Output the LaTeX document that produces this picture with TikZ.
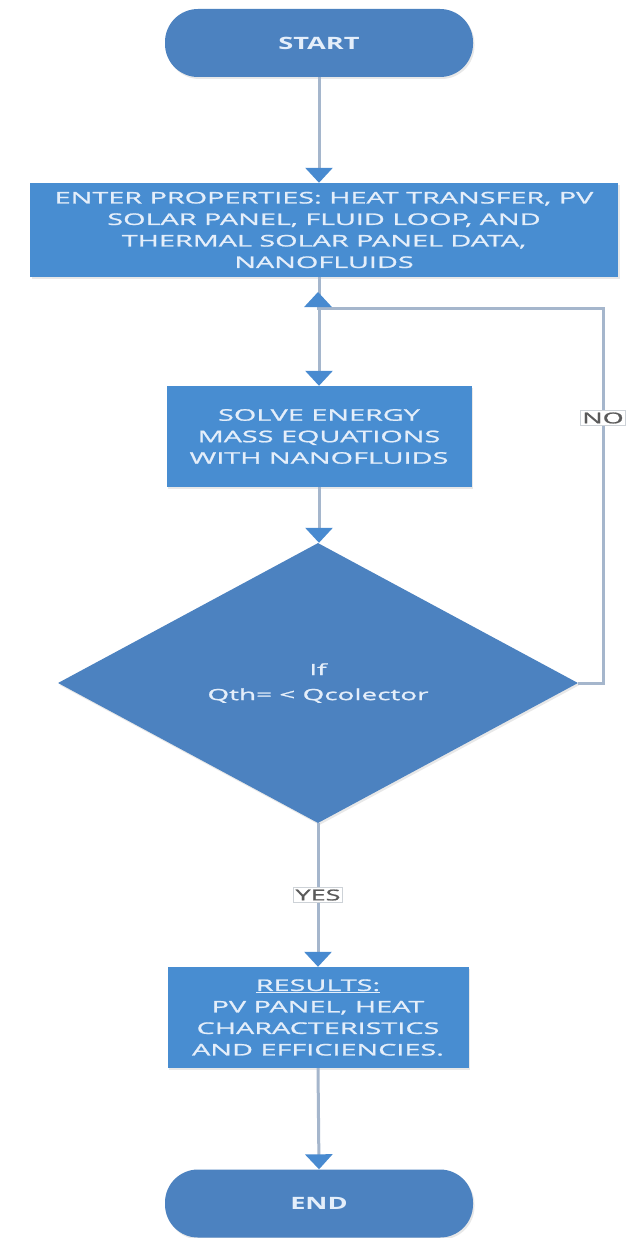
\documentclass[tikz,border=0pt]{standalone}
\usepackage{fontspec}
\setmainfont{Open Sans}
\newfontfamily\wfont[FakeStretch=1.8,FakeBold=1.2]{Open Sans}
\newfontfamily\tfont[FakeStretch=1.6]{Open Sans}
\usetikzlibrary{shapes.geometric,arrows.meta,shadows}
\definecolor{boxc}{RGB}{72,141,209}
\definecolor{termc}{RGB}{76,130,192}
\definecolor{txtc}{RGB}{228,238,250}
\definecolor{linec}{RGB}{165,182,204}
\definecolor{arrc}{RGB}{72,138,208}
\definecolor{lblc}{RGB}{90,90,90}
\definecolor{lblb}{RGB}{205,210,215}
\begin{document}
\begin{tikzpicture}[x=1pt,y=-1pt,
  shad/.style={drop shadow={opacity=0.18, shadow xshift=1.5pt, shadow yshift=-2pt}},
  proc/.style={rectangle, fill=boxc, text=txtc, inner sep=0pt, align=center, shad,
    font=\wfont\fontsize{16}{21.5}\selectfont},
  term/.style={rectangle, rounded corners=33pt, fill=termc, text=txtc, shad,
    minimum width=308pt, minimum height=68pt, inner sep=0pt,
    font=\tfont\bfseries\fontsize{17}{20}\selectfont},
  dec/.style={diamond, fill=termc, text=txtc, minimum width=520pt,
    minimum height=280pt, inner sep=0pt, align=center, shad,
    font=\wfont\fontsize{15.5}{25}\selectfont},
  conn/.style={draw=linec, line width=3pt,
    -{Triangle[width=27pt,length=15pt,color=arrc]}},
  lbl/.style={fill=white, draw=lblb, line width=0.8pt, text=lblc,
    inner sep=2pt, font=\wfont\fontsize{15}{18}\selectfont}
]
\useasboundingbox (0,0) rectangle (625,1238);
\fill[white] (0,0) rectangle (625,1238);

\node[term] (start) at (319,43) {START};
\node[proc, minimum width=588pt, minimum height=94pt] (enter) at (324,230)
  {ENTER PROPERTIES: HEAT TRANSFER, PV\\SOLAR PANEL, FLUID LOOP, AND\\THERMAL SOLAR PANEL DATA,\\NANOFLUIDS};
\node[proc, minimum width=305pt, minimum height=101pt] (solve) at (319,436.5)
  {SOLVE ENERGY\\MASS EQUATIONS\\WITH NANOFLUIDS};
\node[dec] (dec) at (318,683) {If\\Qth= {<} Qcolector};
\node[proc, minimum width=301pt, minimum height=101pt] (res) at (318,1017.5)
  {\underline{RESULTS:}\\PV PANEL, HEAT\\CHARACTERISTICS\\AND EFFICIENCIES.};
\node[term] (end) at (319,1203.5) {END};

\coordinate (lp) at (603,308);
\coordinate (jl) at (318,308);
\coordinate (jt) at (318,292);

\draw[conn] (start.south) -- (start.south |- enter.north);
\draw[conn] (solve.north |- enter.south) -- (solve.north);
\draw[conn] (solve.south) -- (solve.south |- dec.north);
\draw[conn] (dec.east) -| (lp) -- (jl) -- (jt);
\draw[conn] (dec.south) -- node[lbl] (yes) {YES} (res.north);
\draw[conn] (res.south) -- (end.north);
\node[lbl] (no) at (603,418) {NO};
\end{tikzpicture}
\end{document}
